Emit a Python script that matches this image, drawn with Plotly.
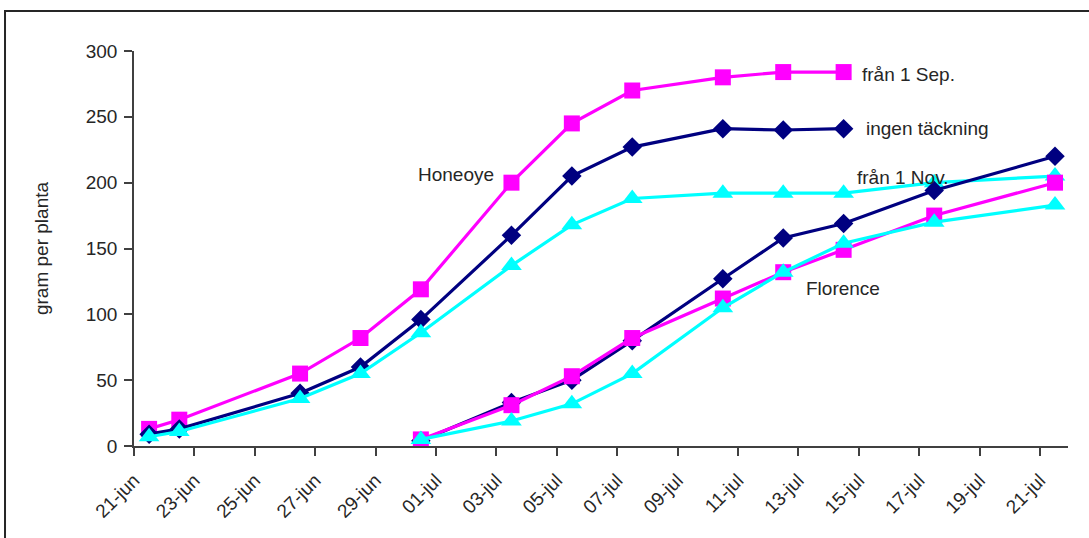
import plotly.graph_objects as go

# Sampling dates
honeoye_dates = ["2009-06-21", "2009-06-22", "2009-06-26", "2009-06-28", "2009-06-30",
                 "2009-07-03", "2009-07-05", "2009-07-07", "2009-07-10", "2009-07-12",
                 "2009-07-14"]
honeoye_nov_dates = honeoye_dates + ["2009-07-17", "2009-07-21"]
florence_dates = ["2009-06-30", "2009-07-03", "2009-07-05", "2009-07-07", "2009-07-10",
                  "2009-07-12", "2009-07-14", "2009-07-17", "2009-07-21"]

# Cumulative yield, gram per planta
honeoye_sep = [13, 20, 55, 82, 119, 200, 245, 270, 280, 284, 284]
honeoye_ingen = [9, 13, 40, 60, 96, 160, 205, 227, 241, 240, 241]
honeoye_nov = [7, 11, 36, 55, 86, 137, 168, 188, 192, 192, 192, 200, 205]
florence_ingen = [4, 33, 50, 80, 127, 158, 169, 194, 220]
florence_sep = [5, 31, 53, 82, 112, 132, 149, 175, 200]
florence_nov = [5, 19, 32, 55, 105, 132, 154, 170, 183]

# Axis ticks
tick_dates = ["2009-06-21", "2009-06-23", "2009-06-25", "2009-06-27", "2009-06-29",
              "2009-07-01", "2009-07-03", "2009-07-05", "2009-07-07", "2009-07-09",
              "2009-07-11", "2009-07-13", "2009-07-15", "2009-07-17", "2009-07-19",
              "2009-07-21"]
tick_labels = ["21-jun", "23-jun", "25-jun", "27-jun", "29-jun", "01-jul", "03-jul",
               "05-jul", "07-jul", "09-jul", "11-jul", "13-jul", "15-jul", "17-jul",
               "19-jul", "21-jul"]

MAGENTA = "#FF00FF"
NAVY = "#000080"
CYAN = "#00FFFF"
FONT = "Liberation Sans, Arial, sans-serif"
TXT = "#262626"

styles = {
    "sep": dict(color=MAGENTA, symbol="square", size=16),
    "ingen": dict(color=NAVY, symbol="diamond", size=15),
    "nov": dict(color=CYAN, symbol="triangle-up", size=18),
}

fig = go.Figure()


def add_series(dates, values, key, name):
    st = styles[key]
    fig.add_trace(go.Scatter(
        x=dates, y=values, name=name, mode="lines+markers",
        xperiod=86400000, xperiodalignment="middle",
        line=dict(color=st["color"], width=3.2),
        marker=dict(color=st["color"], symbol=st["symbol"], size=st["size"],
                    line=dict(width=0)),
        showlegend=False,
    ))


add_series(honeoye_dates, honeoye_sep, "sep", "Honeoye från 1 Sep.")
add_series(honeoye_dates, honeoye_ingen, "ingen", "Honeoye ingen täckning")
add_series(honeoye_nov_dates, honeoye_nov, "nov", "Honeoye från 1 Nov.")
add_series(florence_dates, florence_ingen, "ingen", "Florence ingen täckning")
add_series(florence_dates, florence_sep, "sep", "Florence från 1 Sep.")
add_series(florence_dates, florence_nov, "nov", "Florence från 1 Nov.")

labels = [
    ("Honeoye", "2009-07-03 00:05", 206, "right"),
    ("från 1 Sep.", "2009-07-15 01:00", 282, "left"),
    ("ingen täckning", "2009-07-15 04:00", 241, "left"),
    ("från 1 Nov.", "2009-07-14 21:00", 204, "left"),
    ("Florence", "2009-07-13 04:30", 120, "left"),
]
annotations = [
    dict(text=t, x=x, y=y, xref="x", yref="y", xanchor=a, yanchor="middle",
         showarrow=False, font=dict(family=FONT, size=19, color=TXT))
    for t, x, y, a in labels
]

# outer frame of the chart area (extends past the right and bottom edges)
shapes = [
    dict(type="rect", xref="paper", yref="paper", x0=-0.1381, x1=1.04,
         y0=-0.3, y1=1.1013, line=dict(color="#262626", width=2), layer="below"),
]

fig.update_layout(
    width=1089, height=538,
    margin=dict(l=134, r=21, t=51, b=92),
    paper_bgcolor="white", plot_bgcolor="white",
    font=dict(family=FONT, size=18, color=TXT),
    annotations=annotations,
    shapes=shapes,
    xaxis=dict(
        type="date",
        range=["2009-06-21", "2009-07-21 22:20"],
        tickvals=tick_dates, ticktext=tick_labels,
        tickangle=-45, ticks="outside", ticklen=8, tickwidth=1.5, tickcolor="#404040",
        showline=True, linecolor="#404040", linewidth=1.5,
        showgrid=False, zeroline=False, ticklabelstandoff=6,
        tickfont=dict(family=FONT, size=19, color=TXT),
    ),
    yaxis=dict(
        range=[0, 300], tickvals=[0, 50, 100, 150, 200, 250, 300],
        ticks="outside", ticklen=8, tickwidth=1.5, tickcolor="#404040",
        showline=True, linecolor="#404040", linewidth=1.5,
        showgrid=False, zeroline=False, ticklabelstandoff=3,
        tickfont=dict(family=FONT, size=19, color=TXT),
        title=dict(text="gram per planta", font=dict(family=FONT, size=19, color=TXT),
                   standoff=32),
    ),
)

fig.write_html("out.html")
